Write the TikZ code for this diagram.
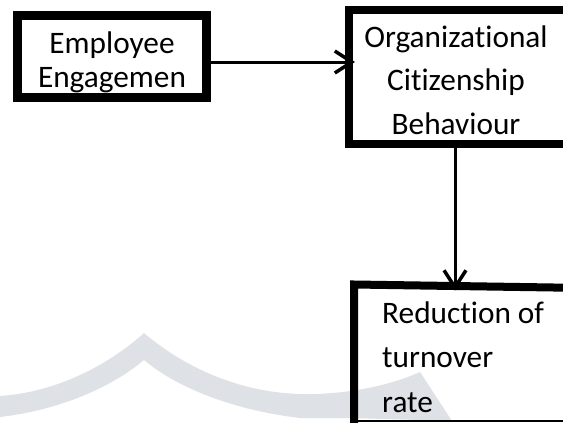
\documentclass[tikz,border=0pt]{standalone}
\usepackage{fontspec}
\setmainfont{Carlito}[Ligatures=NoCommon]
\usetikzlibrary{arrows.meta,calc}
\definecolor{wmgrey}{HTML}{DEE2E6}
\begin{document}
\begin{tikzpicture}[x=1pt,y=-1pt,
  frame/.style={draw, line width=#1, inner sep=0pt},
  label/.style={inner sep=0pt, font=\fontsize{31.3}{#1}\selectfont},
  link/.style={line width=3pt, -{Straight Barb[length=17pt,width=22pt,line width=3.5pt]}}]
  \clip (0,0) rectangle (563,423);
  \fill[white] (0,0) rectangle (563,423);

  % light grey wave band along the lower edge
  \fill[wmgrey] (0,396) .. controls (60,392) and (112,362) .. (144,333)
    .. controls (178,362) and (232,392) .. (300,394)
    .. controls (330,395) and (380,390) .. (420,372)
    -- (452,421) -- (350,418)
    .. controls (330,418) and (315,418) .. (300,418)
    .. controls (232,410) and (176,387) .. (144,360)
    .. controls (112,387) and (60,410) .. (0,417) -- cycle;

  % boxes
  \node[frame=9pt, minimum width=189pt, minimum height=82.5pt] (box1) at (112,56.25) {};
  \node[frame=8pt, minimum width=271pt, minimum height=134.5pt] (box2) at (484.5,76.75) {};
  \node[inner sep=0pt, outer sep=0pt, minimum width=266pt, minimum height=132.5pt] (box3) at (487,354.75) {};
  \draw[line width=8pt] ([yshift=-4pt]box3.south west) -- ([yshift=4pt]box3.north west) -- (box3.north east);
  \draw[line width=1.5pt] (box3.south west) -- (box3.south east);

  % texts (anchored on the baseline of their last line)
  \node[label=34.5pt, align=center, anchor=base] (t1) at (112,87.8) {Employee\\Engagemen};
  \node[label=43.5pt, align=center, anchor=base] (t2) at (456,134) {Organizational\\Citizenship\\Behaviour};
  \node[label=44.5pt, align=left, anchor=base west] (t3) at (382,412) {Reduction of\\turnover\\rate};

  % connectors
  \coordinate (hy) at (0,62);
  \coordinate (vx) at (455,0);
  \draw[link, shorten >=-10pt] (box1.east |- hy) -- (box2.west |- hy);
  \draw[link, shorten >=-2pt] (box2.south -| vx) -- (box3.north -| vx);
\end{tikzpicture}
\end{document}
